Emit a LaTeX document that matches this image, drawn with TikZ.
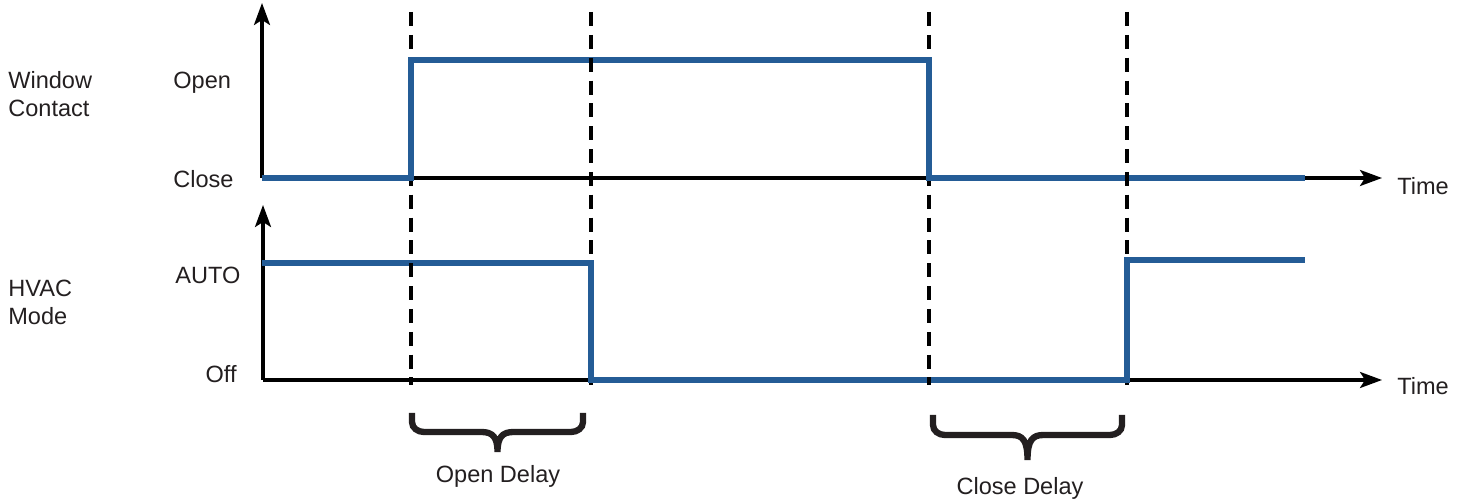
\documentclass[tikz,border=0pt]{standalone}
\usepackage{fontspec}
\setmainfont{Liberation Sans}
\usepackage{tikz}
\usetikzlibrary{arrows.meta,positioning}
\definecolor{sigblue}{RGB}{36,92,150}
\definecolor{txtgray}{RGB}{35,31,32}

\tikzset{
	axis/.style = {draw=black,line width=1.8pt,-{Stealth[length=0.44cm,width=0.32cm,inset=0.1cm]}},
	signal/.style = {draw=sigblue,line width=3.1pt,line join=miter},
	delayline/.style = {draw=black,line width=1.8pt,dash pattern=on 8pt off 5pt},
	bracepath/.style = {draw=txtgray,line width=3.6pt},
	lbl/.style = {text=txtgray,inner sep=0pt,font=\fontsize{13.4pt}{16.2pt}\selectfont},
}

\begin{document}
\begin{tikzpicture}[x=0.02cm,y=-0.02cm]
		\useasboundingbox (0,0) rectangle (1466,502);
		% axes
		\coordinate (otop) at (262,178);
		\coordinate (obot) at (263,380);
		\path [axis] (otop) -- (262,3);
		\path [axis] (otop) -- (1382,178);
		\path [axis] (obot) -- (263,205);
		\path [axis] (obot) -- (1382,380);
		% signals
		\path [signal] (262,178) -- (411,178) -- (411,60) -- (929,60) -- (929,178) -- (1305,178);
		\path [signal] (262,263) -- (591,263) -- (591,380) -- (1127,380) -- (1127,260) -- (1305,260);
		% delay markers
		\foreach \xd in {411,591,929,1127}
			\path [delayline] (\xd,12) -- (\xd,385);
		% edges lie over the markers
		\foreach \xe/\ya/\yb in {411/178/60,929/60/178,591/263/380,1127/380/260}
			\path [signal,line cap=rect] (\xe,\ya) -- (\xe,\yb);
		% braces
		\foreach \xl/\xr/\yt/\ym/\yp in {412/583/413/432/452,933/1122/415/435/460}
			\path [bracepath] (\xl,\yt) -- (\xl,\ym-10) to[out=-90,in=180] (\xl+12,\ym) -- ({(\xl+\xr)/2-16},\ym)
				.. controls ({(\xl+\xr)/2-5},\ym) and ({(\xl+\xr)/2},\ym+5) .. ({(\xl+\xr)/2},\yp)
				.. controls ({(\xl+\xr)/2},\ym+5) and ({(\xl+\xr)/2+5},\ym) .. ({(\xl+\xr)/2+16},\ym)
				-- (\xr-12,\ym) to[out=0,in=-90] (\xr,\ym-10) -- (\xr,\yt);
		% labels
		\node (window) at (8,116.5) [lbl,anchor=base west,align=left] {Window\\Contact};
		\node (hvac) at (8,325) [lbl,anchor=base west,align=left] {HVAC\\Mode};
		\node (open) at (173,89) [lbl,anchor=base west] {Open};
		\node (close) at (173,188) [lbl,anchor=base west] {Close};
		\node (auto) at (175,284) [lbl,anchor=base west] {AUTO};
		\node (off) at (237,383) [lbl,anchor=base east] {Off};
		\node (time1) at (1397,195) [lbl,anchor=base west] {Time};
		\node (time2) at (1397,395) [lbl,anchor=base west] {Time};
		\node (opendelay) at (498,483) [lbl,anchor=base] {Open Delay};
		\node (closedelay) at (1020,495) [lbl,anchor=base] {Close Delay};
	\end{tikzpicture}
\end{document}
